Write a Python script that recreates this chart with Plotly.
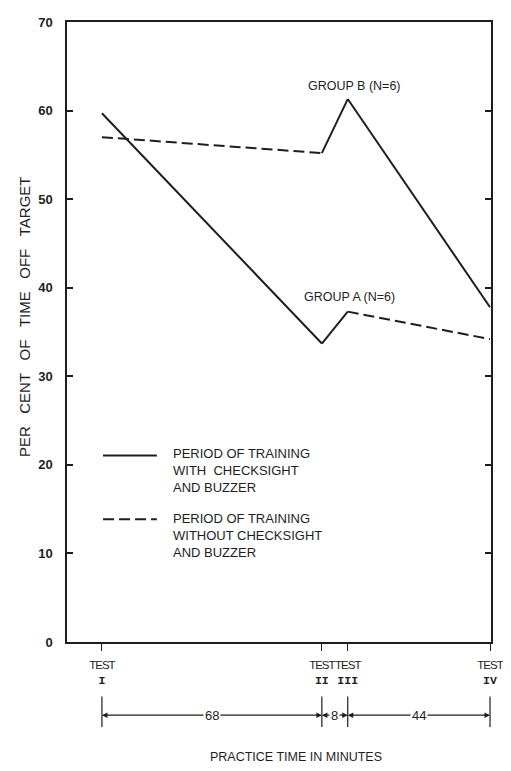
import plotly.graph_objects as go

# practice time (minutes) at which each test was given
test_names = ["I", "II", "III", "IV"]
test_minutes = [0, 68, 76, 120]
# per cent of time off target
group_a = [59.7, 33.7, 37.3, 34.2]
group_b = [57.0, 55.2, 61.3, 37.8]
# style of each segment between tests: solid = with checksight and buzzer
group_a_segments = ["solid", "solid", "dash"]
group_b_segments = ["dash", "solid", "solid"]
# practice time between consecutive tests
interval_minutes = [68, 8, 44]

INK = "#1e1e1e"
FONT = "Liberation Sans"
DASH = "11px,5px"

fig = go.Figure()

for values, styles in [(group_a, group_a_segments), (group_b, group_b_segments)]:
    for i, style in enumerate(styles):
        fig.add_trace(go.Scatter(
            x=test_minutes[i:i + 2],
            y=values[i:i + 2],
            mode="lines",
            line=dict(color=INK, width=2, dash=DASH if style == "dash" else "solid"),
            showlegend=False,
            hoverinfo="skip",
        ))

annotations = [
    dict(x=78, y=62.8, text="GROUP B (N=6)", showarrow=False),
    dict(x=76.5, y=39.0, text="GROUP A (N=6)", showarrow=False),
]
for a in annotations:
    a.update(xref="x", yref="y", font=dict(family=FONT, size=12.5, color=INK))

# hand-made key
key_items = [
    ("solid", "PERIOD OF TRAINING<br>WITH  CHECKSIGHT<br>AND BUZZER", 0.301, 0.277),
    ("dash", "PERIOD OF TRAINING<br>WITHOUT CHECKSIGHT<br>AND BUZZER", 0.198, 0.172),
]
shapes = []
for style, label, ly, ty in key_items:
    shapes.append(dict(
        type="line", xref="paper", yref="paper", x0=0.085, x1=0.212, y0=ly, y1=ly,
        line=dict(color=INK, width=2, dash=DASH if style == "dash" else "solid"),
    ))
    annotations.append(dict(
        xref="paper", yref="paper", x=0.246, y=ty, xanchor="left", yanchor="middle",
        text=label, align="left", showarrow=False,
        font=dict(family=FONT, size=13, color=INK),
    ))

# interval dimension row below the axis
row_y = -0.118
for m in test_minutes:
    shapes.append(dict(
        type="line", xref="x", yref="paper", x0=m, x1=m, y0=-0.088, y1=-0.137,
        line=dict(color=INK, width=1.2),
    ))
starts = test_minutes[:-1]
ends = test_minutes[1:]
for s, e in zip(starts, ends):
    mid = (s + e) / 2
    for head in (s, e):
        annotations.append(dict(
            xref="x", yref="paper", x=head, y=row_y, axref="x", ax=mid,
            ayref="pixel", ay=0, text="", showarrow=True, arrowhead=2,
            arrowsize=1, arrowwidth=1.1, arrowcolor=INK, standoff=0,
        ))
for s, e, n in zip(starts, ends, interval_minutes):
    annotations.append(dict(
        xref="x", yref="paper", x=(s + e) / 2, y=row_y, text=str(n),
        xanchor="center", yanchor="middle",
        showarrow=False, bgcolor="white", borderpad=1,
        font=dict(family=FONT, size=13, color=INK),
    ))

annotations.append(dict(
    xref="paper", yref="paper", x=0.54, y=-0.185, xanchor="center", yanchor="middle",
    text="PRACTICE TIME IN MINUTES",
    showarrow=False, font=dict(family=FONT, size=12.5, color=INK),
))
gap = "\u00a0" * 3
annotations.append(dict(
    xref="paper", yref="paper", x=-0.1, y=0.525, textangle=-90,
    xanchor="center", yanchor="middle",
    text=gap.join(["PER", "CENT", "OF", "TIME", "OFF", "TARGET"]),
    showarrow=False, font=dict(family=FONT, size=15, color=INK),
))

tick_text = [
    "<span style='letter-spacing:-1px'>TEST</span><br>"
    "<b><span style='font-family:Liberation Mono'>%s</span></b>" % t
    for t in test_names
]

# the page body carries an 8px margin, so the figure is drawn 8px smaller
fig.update_layout(
    width=503, height=763,
    margin=dict(l=59, r=18, t=7, b=129),
    paper_bgcolor="white", plot_bgcolor="white",
    showlegend=False,
    shapes=shapes,
    annotations=annotations,
    xaxis=dict(
        range=[-10.8, 120.3], tickvals=test_minutes, ticktext=tick_text,
        tickangle=0, ticklabelstandoff=4,
        ticks="outside", ticklen=7, tickwidth=1.2, tickcolor=INK,
        showline=True, linecolor=INK, linewidth=1.5, mirror=True,
        showgrid=False, zeroline=False,
        tickfont=dict(family=FONT, size=11.5, color=INK),
    ),
    yaxis=dict(
        range=[0, 70], dtick=10,
        ticks="inside", ticklen=6, tickwidth=1.5, tickcolor=INK,
        showline=True, linecolor=INK, linewidth=1.5, mirror="ticks",
        showgrid=False, zeroline=False, ticklabelstandoff=10,
        tickfont=dict(family=FONT, size=13, color=INK, weight="bold"),
    ),
)

fig.write_html("out.html")
